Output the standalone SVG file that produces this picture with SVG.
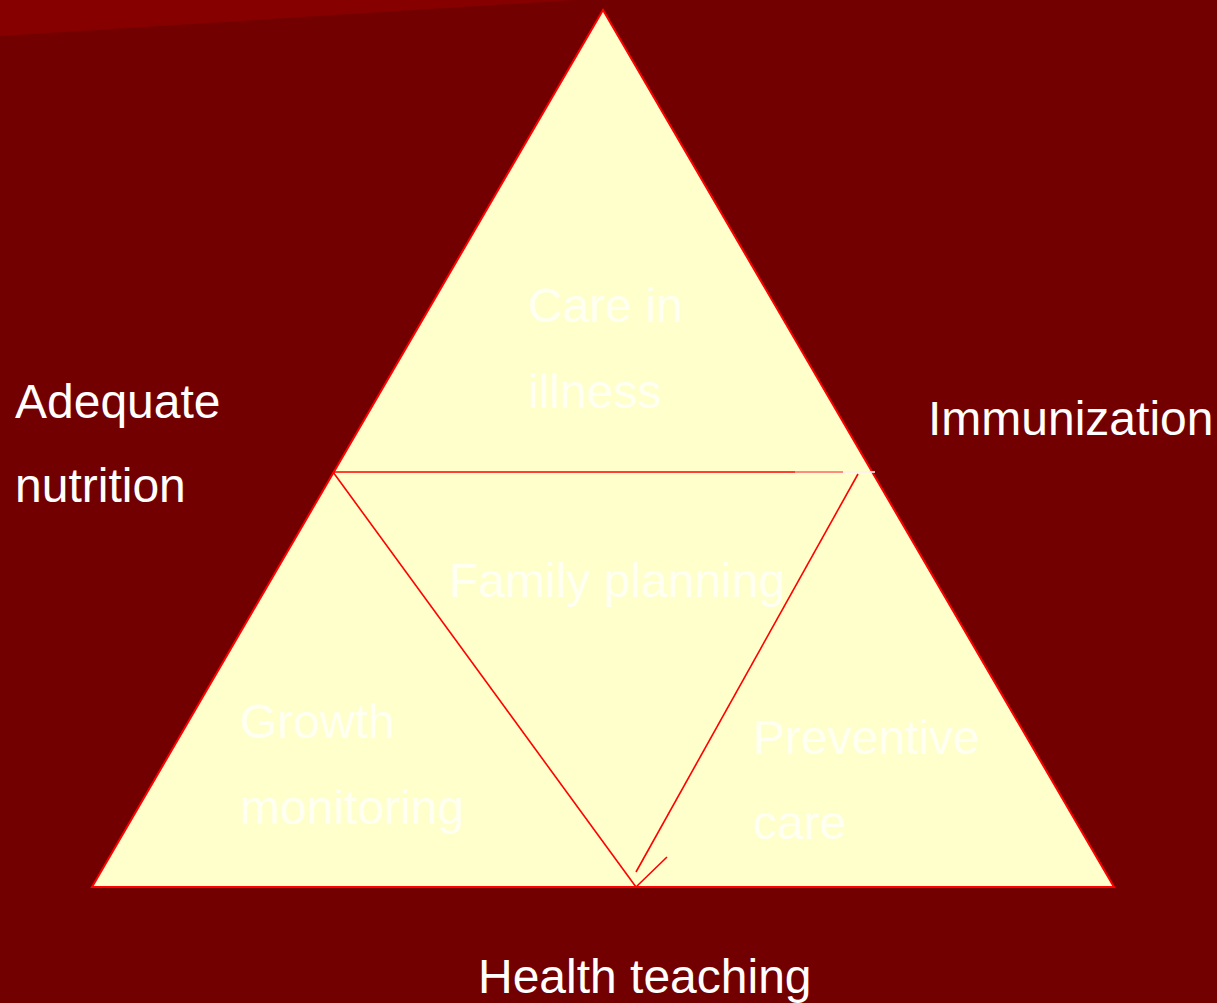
<svg xmlns="http://www.w3.org/2000/svg" width="1217" height="1003" viewBox="0 0 1217 1003">
<style>
.bg{fill:#730000}
.band{fill:#870000}
.tri{fill:#FFFFCC;stroke:#FF0000;stroke-width:2}
.ln{stroke:#FF0000;stroke-width:1.6;fill:none}
.out{font-family:"Liberation Sans",Arial,sans-serif;font-size:48px;fill:#FFFFFF}
.in{font-family:"Liberation Sans",Arial,sans-serif;font-size:48px;fill:#FFFFF2}
</style>
<rect class="bg" x="0" y="0" width="1217" height="1003"/>
<polygon class="band" points="0,0 575,0 0,36"/>
<g id="triangle">
<polygon class="tri" points="603,10 1114,887 92,887"/>
</g>
<g id="connectors">
<line class="ln" x1="333" y1="472" x2="795" y2="472"/>
<line x1="795" y1="472" x2="843" y2="472" stroke="#FF6666" stroke-width="1.6"/>
<line x1="843" y1="472" x2="875" y2="472" stroke="#FFF0F0" stroke-width="1.6"/>
<line class="ln" x1="333" y1="472" x2="636" y2="887"/>
<line class="ln" x1="858" y1="474" x2="636" y2="872"/>
<line class="ln" x1="636" y1="887" x2="667" y2="857"/>
</g>
<g id="care-in-illness">
<text class="in" x="528" y="322">Care in</text>
<text class="in" x="528" y="408">illness</text>
</g>
<g id="family-planning">
<text class="in" x="449" y="597">Family planning</text>
</g>
<g id="growth-monitoring">
<text class="in" x="240" y="738">Growth</text>
<text class="in" x="240" y="824">monitoring</text>
</g>
<g id="preventive-care">
<text class="in" x="753" y="754">Preventive</text>
<text class="in" x="753" y="839">care</text>
</g>
<g id="adequate-nutrition">
<text class="out" x="15" y="418">Adequate</text>
<text class="out" x="15" y="502">nutrition</text>
</g>
<g id="immunization">
<text class="out" x="928" y="435">Immunization</text>
</g>
<g id="health-teaching">
<text class="out" x="478" y="993">Health teaching</text>
</g>
</svg>
